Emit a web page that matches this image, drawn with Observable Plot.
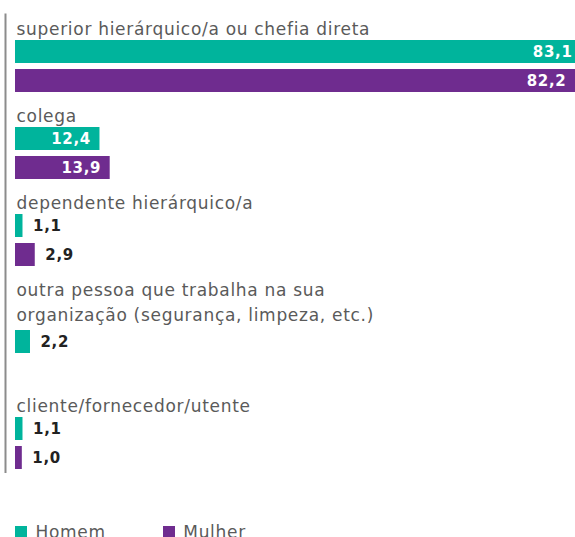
<!DOCTYPE html>
<html>
<head>
<meta charset="utf-8">
<script src="https://cdn.jsdelivr.net/npm/d3@7"></script>
<script src="https://cdn.jsdelivr.net/npm/@observablehq/plot@0.6"></script>
<style>
  body { margin: 0; background: white; }
  .lg-swatch { margin-right: 57px !important; }
  #legend { margin-left: 15px; }
</style>
</head>
<body>
<div id="chart"></div>
<div id="legend"></div>
<script>
const categories = [
  "superior hierárquico/a ou chefia direta",
  "colega",
  "dependente hierárquico/a",
  "outra pessoa que trabalha na sua\norganização (segurança, limpeza, etc.)",
  "cliente/fornecedor/utente"
];
const series = ["Homem", "Mulher"];
const homem = [83.1, 12.4, 1.1, 2.2, 1.1];
const mulher = [82.2, 13.9, 2.9, null, 1.0];
const colors = ["#00b49c", "#6f2c8f"];

const values = {Homem: homem, Mulher: mulher};
const fmt = v => v.toFixed(1).replace(".", ",");
const font = "'DejaVu Sans', sans-serif";

const rows = [];
const labelRows = [];
categories.forEach((c, i) => {
  c.split("\n").forEach((line, j) => {
    const r = {key: `L${i}-${j}`, text: line, line: j};
    rows.push(r.key);
    labelRows.push(r);
  });
  series.forEach(s => rows.push(`${i}-${s}`));
});

const bars = categories.flatMap((c, i) =>
  series.map(s => ({key: `${i}-${s}`, series: s, value: values[s][i]}))
).filter(d => d.value != null);

const inside = bars.filter(d => d.value >= 10);
const outside = bars.filter(d => d.value < 10);

const chart = Plot.plot({
  width: 575,
  height: 515,
  marginLeft: 15,
  marginRight: 0,
  marginTop: 6.5,
  marginBottom: 42,
  x: {domain: [0, 82.2], axis: null},
  y: {domain: rows, paddingInner: 0.222, paddingOuter: 0, axis: null},
  color: {domain: series, range: colors},
  style: {fontFamily: font, fontSize: "17px", background: "white", letterSpacing: "0.7px"},
  marks: [
    Plot.ruleX([0], {dx: -10, stroke: "#8c8c8c", strokeWidth: 2, insetTop: 7}),
    Plot.barX(bars, {y: "key", x: "value", fill: "series"}),
    Plot.text(labelRows.filter(d => d.line === 0), {y: "key", x: 0, text: "text", textAnchor: "start", dx: 1, dy: 7, fill: "#5a5a5a", fontSize: 17}),
    Plot.text(labelRows.filter(d => d.line > 0), {y: "key", x: 0, text: "text", textAnchor: "start", dx: 1, dy: 3, fill: "#5a5a5a", fontSize: 17}),
    Plot.text(inside, {y: "key", x: "value", text: d => fmt(d.value), textAnchor: "end", dx: -9, fill: "white", fontWeight: "bold", fontSize: 15}),
    Plot.text(outside, {y: "key", x: "value", text: d => fmt(d.value), textAnchor: "start", dx: 10, fill: "#222", fontWeight: "bold", fontSize: 15})
  ]
});
document.getElementById("chart").append(chart);

const legend = Plot.legend({
  color: {domain: series, range: colors},
  swatchSize: 12,
  className: "lg",
  style: {fontFamily: font, fontSize: "17px", color: "#5a5a5a", letterSpacing: "0.7px"}
});
document.getElementById("legend").append(legend);
</script>
</body>
</html>
